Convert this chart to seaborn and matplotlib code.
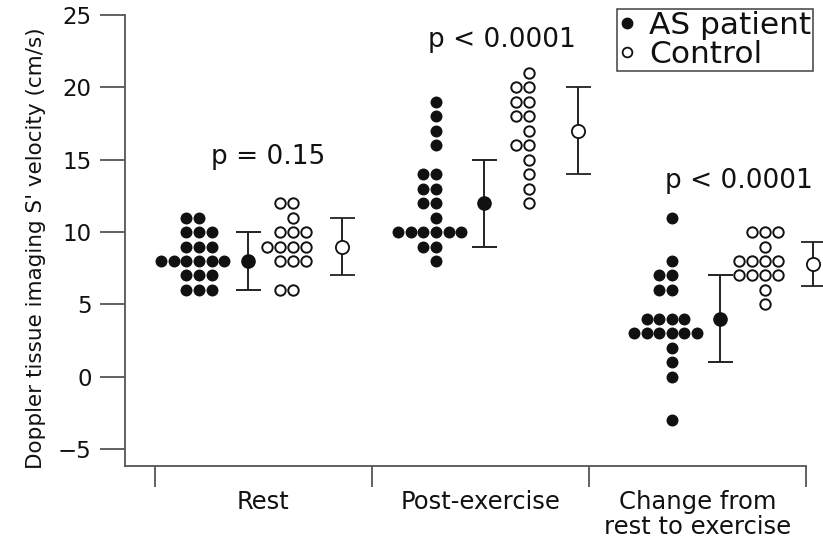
import numpy as np
import pandas as pd
import matplotlib
matplotlib.use("Agg")
import matplotlib.pyplot as plt
from matplotlib.lines import Line2D
from matplotlib.ticker import FixedLocator, NullFormatter
import seaborn as sns

# ---- data -------------------------------------------------------------
categories = ["Rest", "Post-exercise", "Change from\nrest to exercise"]

rest_as = [11, 11, 10, 10, 10, 9, 9, 9, 8, 8, 8, 8, 8, 8, 7, 7, 7, 6, 6, 6]
rest_ctrl = [12, 12, 11, 10, 10, 10, 9, 9, 9, 9, 8, 8, 8, 6, 6]
post_as = [19, 18, 17, 16, 14, 14, 13, 13, 12, 12, 11,
           10, 10, 10, 10, 10, 10, 9, 9, 8]
post_ctrl = [21, 20, 20, 19, 19, 18, 18, 17, 16, 16, 15, 14, 13, 12]
change_as = [11, 8, 7, 7, 6, 6, 4, 4, 4, 4, 3, 3, 3, 3, 3, 3, 2, 1, 0, -3]
change_ctrl = [10, 10, 10, 9, 8, 8, 8, 8, 7, 7, 7, 7, 6, 5]

as_mean = [8, 12, 4]
as_sd = [2, 3, 3]
ctrl_mean = [9, 17, 7.8]
ctrl_sd = [2, 3, 1.5]

p_labels = ["p = 0.15", "p < 0.0001", "p < 0.0001"]

# ---- layout (offsets from each category centre) ----------------------
swarm_as_off = [-0.297, -0.205, -0.118]
mean_as_off = [-0.071, 0.016, 0.104]
swarm_ctrl_off = [0.136, 0.224, 0.311]
mean_ctrl_off = [0.362, 0.449, 0.532]
p_pos = [(0.02, 15.2), (1.10, 23.3), (2.19, 13.5)]

as_groups = [rest_as, post_as, change_as]
ctrl_groups = [rest_ctrl, post_ctrl, change_ctrl]


def long_table(groups, offsets):
    rows = []
    for i, (vals, off) in enumerate(zip(groups, offsets)):
        for v in vals:
            rows.append({"pos": i + off, "velocity": v})
    return pd.DataFrame(rows)


df_as = long_table(as_groups, swarm_as_off)
df_ctrl = long_table(ctrl_groups, swarm_ctrl_off)

sns.set_theme(style="white")
plt.rcParams["font.family"] = ["DejaVu Sans"]

W, H = 823, 542
fig = plt.figure(figsize=(W / 100, H / 100), dpi=100)
ax = fig.add_axes([125 / W, (H - 466) / H, 1 - 125 / W, (466 - 15) / H])

ink = "#111111"
txt_col = "#111111"
sns.swarmplot(data=df_as, x="pos", y="velocity", native_scale=True,
              orient="x", color=ink, size=8.6, linewidth=0, ax=ax)
sns.swarmplot(data=df_ctrl, x="pos", y="velocity", native_scale=True,
              orient="x", color="white", edgecolor=ink, size=7.5,
              linewidth=1.4, ax=ax)

# group means with +/- SD bars
for i in range(3):
    ax.errorbar(i + mean_as_off[i], as_mean[i], yerr=as_sd[i], fmt="o",
                color="#222222", mfc=ink, mec=ink, ms=9.5, elinewidth=1.4,
                capsize=9, capthick=1.4, zorder=5)
    ax.errorbar(i + mean_ctrl_off[i], ctrl_mean[i], yerr=ctrl_sd[i], fmt="o",
                color="#222222", mfc="white", mec=ink, ms=9.5, mew=1.3,
                elinewidth=1.4, capsize=9, capthick=1.4, zorder=5)

for (x, y), txt in zip(p_pos, p_labels):
    ax.text(x, y, txt, ha="center", va="center", fontsize=19, color=txt_col)

# axes
ax.set_xlim(-0.638, 2.578)
ax.set_ylim(-6.17, 25)
ax.set_yticks([-5, 0, 5, 10, 15, 20, 25])
ax.set_yticklabels(["\u22125", "0", "5", "10", "15", "20", "25"])
ax.set_ylabel("Doppler tissue imaging S' velocity (cm/s)", fontsize=15.5,
              color=txt_col)
ax.yaxis.set_label_coords(-0.113, 0.484)
ax.set_xlabel("")

ax.xaxis.set_major_locator(FixedLocator([-0.5, 0.5, 1.5, 2.5]))
ax.xaxis.set_major_formatter(NullFormatter())
ax.xaxis.set_minor_locator(FixedLocator([0, 1, 2]))
ax.set_xticklabels(categories, minor=True, linespacing=1.05)
ax.tick_params(axis="x", which="major", direction="out", length=15,
               width=1.3, color="#555555", bottom=True)
ax.tick_params(axis="x", which="minor", length=0, pad=17, labelsize=17.5,
               labelcolor=txt_col)
ax.tick_params(axis="y", direction="out", length=18, width=1.3,
               color="#555555", labelsize=16.5, labelcolor=txt_col, left=True,
               pad=6)

for side in ("top", "right"):
    ax.spines[side].set_visible(False)
for side in ("left", "bottom"):
    ax.spines[side].set_color("#555555")
    ax.spines[side].set_linewidth(1.3)
ax.spines["left"].set_bounds(-6.17, 25)
ax.spines["bottom"].set_bounds(-0.638, 2.5)

handles = [
    Line2D([], [], ls="", marker="o", ms=7.5, mfc=ink, mec=ink),
    Line2D([], [], ls="", marker="o", ms=7, mfc="white", mec=ink, mew=1.3),
]
leg = fig.legend(handles, ["AS patient", "Control"], loc="upper right",
                 bbox_to_anchor=(813 / W, 1 - 9 / H), frameon=True,
                 fancybox=False, edgecolor=ink, fontsize=22.5,
                 handlelength=0.5, handletextpad=0.45, borderpad=0.06,
                 labelspacing=0.0, borderaxespad=0)
leg.get_frame().set_linewidth(1.1)
for t in leg.get_texts():
    t.set_color(txt_col)

fig.savefig("out.png", dpi=100)
